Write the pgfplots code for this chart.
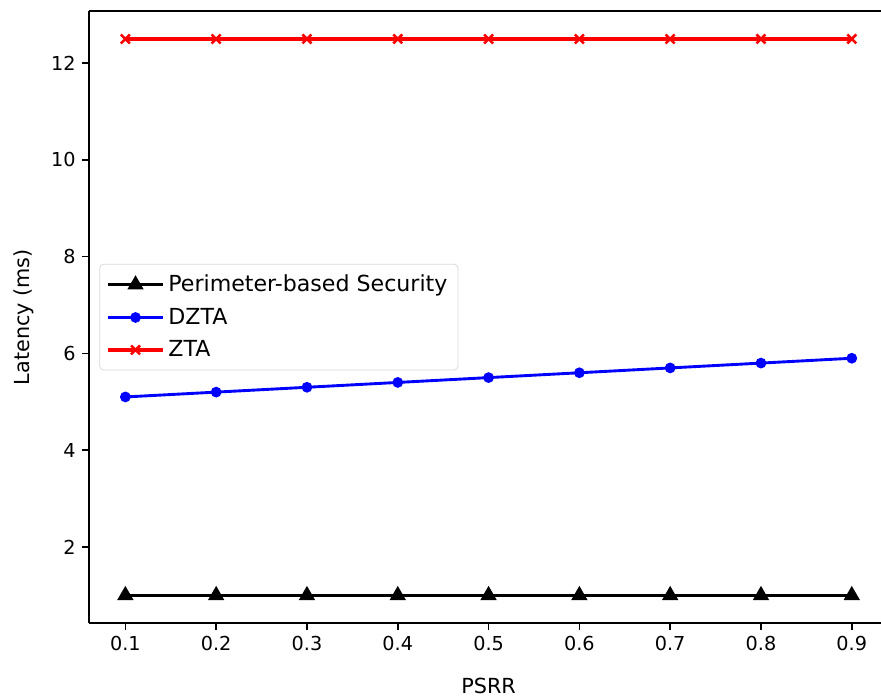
\documentclass[border=0pt]{standalone}
\usepackage{pgfplots}
\pgfplotsset{compat=1.18}
\usepackage{fontspec}
\setmainfont{DejaVu Sans}
\begin{document}
\begin{tikzpicture}
\begin{scope}
\clip (-46.3pt,-38.5pt) rectangle (411.8pt,324pt);
\begin{axis}[
  scale only axis,
  width=415.5pt, height=318.2pt,
  xmin=0.06, xmax=0.94,
  ymin=0.425, ymax=13.075,
  axis x line*=box, axis y line*=left,
  xtick={0.1,0.2,0.3,0.4,0.5,0.6,0.7,0.8,0.9},
  xticklabels={0.1,0.2,0.3,0.4,0.5,0.6,0.7,0.8,0.9},
  ytick={2,4,6,8,10,12},
  tick align=outside,
  xtick pos=bottom, ytick pos=left,
  major tick length=3.5pt,
  tick style={line width=0.8pt, black},
  axis line style={line width=0.8pt, -},
  /pgf/number format/assume math mode=true,
  tick label style={font=\fontsize{10}{12}\selectfont},
  xlabel={PSRR}, ylabel={Latency (ms)},
  label style={font=\fontsize{10.8}{13}\selectfont},
  xlabel style={yshift=-7pt},
  ylabel style={yshift=2pt},
  legend style={at={(0.013,0.5)}, anchor=west, font=\fontsize{11.5}{14}\selectfont,
    draw=black!15, rounded corners=2pt, row sep=3pt, inner sep=3.5pt},
  legend cell align=left,
  legend image code/.code={\draw[mark repeat=2,mark phase=2] plot coordinates {(0cm,0cm) (0.5cm,0cm) (1cm,0cm)};},
]
\addplot[black, line width=1.5pt, mark=triangle*, mark size=3.4pt, mark options={solid}] coordinates {
(0.1,1.0) (0.2,1.0) (0.3,1.0) (0.4,1.0) (0.5,1.0) (0.6,1.0) (0.7,1.0) (0.8,1.0) (0.9,1.0)};
\addlegendentry{Perimeter-based Security}
\addplot[blue, line width=1.5pt, mark=*, mark size=2pt] coordinates {
(0.1,5.1) (0.2,5.2) (0.3,5.3) (0.4,5.4) (0.5,5.5) (0.6,5.6) (0.7,5.7) (0.8,5.8) (0.9,5.9)};
\addlegendentry{DZTA}
\addplot[red, line width=1.7pt, mark=x, mark size=3.3pt, mark options={line width=1.3pt}] coordinates {
(0.1,12.5) (0.2,12.5) (0.3,12.5) (0.4,12.5) (0.5,12.5) (0.6,12.5) (0.7,12.5) (0.8,12.5) (0.9,12.5)};
\addlegendentry{ZTA}
\end{axis}
\end{scope}
\pgfresetboundingbox
\useasboundingbox (-46.3pt,-38.5pt) rectangle (411.8pt,324pt);
\end{tikzpicture}
\end{document}
